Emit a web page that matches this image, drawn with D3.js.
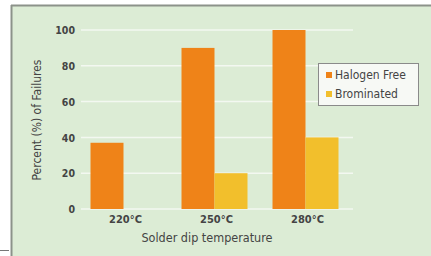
<!DOCTYPE html>
<html><head><meta charset="utf-8">
<script src="https://cdn.jsdelivr.net/npm/d3@7"></script>
<style>
html,body{margin:0;padding:0;background:#fff;}
svg text{font-family:"DejaVu Sans Condensed","Liberation Sans Narrow",sans-serif;fill:#444;}
</style></head>
<body>
<svg id="c" width="431" height="256"></svg>
<script>
const categories = ["220°C", "250°C", "280°C"];
const seriesNames = ["Halogen Free", "Brominated"];
const halogenFree = [37, 90, 100];
const brominated = [0, 20, 40];
const yTicks = [0, 20, 40, 60, 80, 100];
const colors = ["#ef8318", "#f2bf2c"];

const svg = d3.select("#c");
// panel
svg.append("rect").attr("x", 11).attr("y", 5).attr("width", 420).attr("height", 251).attr("fill", "#dcecd5");
svg.append("line").attr("x1", 11).attr("x2", 431).attr("y1", 5.5).attr("y2", 5.5).attr("stroke", "#8c928a").attr("stroke-width", 2);
svg.append("line").attr("x1", 11.5).attr("x2", 11.5).attr("y1", 5).attr("y2", 256).attr("stroke", "#8c928a").attr("stroke-width", 2);
svg.append("line").attr("x1", 0).attr("x2", 9).attr("y1", 250.5).attr("y2", 250.5).attr("stroke", "#777").attr("stroke-width", 1);

const x = d3.scaleBand().domain(categories).range([78, 351]);
const y = d3.scaleLinear().domain([0, 100]).range([209, 30]);
const sub = d3.scaleBand().domain(seriesNames).range([0, 66]);
const offset = (x.bandwidth() - 66) / 2;

// gridlines
svg.append("g").selectAll("line").data(yTicks).join("line")
  .attr("x1", 81).attr("x2", 353)
  .attr("y1", d => y(d)).attr("y2", d => y(d))
  .attr("stroke", "#f3f8f1").attr("stroke-width", 1.5);

// y axis labels
const yAxis = d3.axisLeft(y).tickValues(yTicks).tickSize(0).tickPadding(0);
const gy = svg.append("g").attr("transform", "translate(75,0)").call(yAxis);
gy.select(".domain").remove();
gy.selectAll("text").attr("font-size", 10.5).attr("font-weight", "bold").attr("fill", "#444").attr("dy", "0.35em");

// bars
const data = categories.map((c, i) => ({c, vals: [halogenFree[i], brominated[i]]}));
const groups = svg.append("g").selectAll("g").data(data).join("g")
  .attr("transform", d => `translate(${x(d.c) + offset},0)`);
groups.selectAll("rect").data(d => d.vals.map((v, j) => ({v, s: seriesNames[j], j})))
  .join("rect")
  .attr("x", d => sub(d.s))
  .attr("width", sub.bandwidth())
  .attr("y", d => y(d.v))
  .attr("height", d => y(0) - y(d.v))
  .attr("fill", d => colors[d.j]);

// x axis labels
const xAxis = d3.axisBottom(x).tickSize(0).tickPadding(0);
const gx = svg.append("g").attr("transform", "translate(2,215)").call(xAxis);
gx.select(".domain").remove();
gx.selectAll("text").attr("font-size", 11).attr("font-weight", "bold").attr("fill", "#444").attr("dy", "0.71em");

// axis titles
svg.append("text").attr("x", 207).attr("y", 242).attr("text-anchor", "middle")
  .attr("font-size", 12.5).attr("fill", "#3c3c3c").text("Solder dip temperature");
svg.append("text").attr("transform", "translate(41,120) rotate(-90)").attr("text-anchor", "middle")
  .attr("font-size", 12).attr("fill", "#3c3c3c").text("Percent (%) of Failures");

// legend
const lg = svg.append("g").attr("transform", "translate(318,63)");
lg.append("rect").attr("x", 0.5).attr("y", 0.5).attr("width", 100).attr("height", 42)
  .attr("fill", "#f7f9f5").attr("stroke", "#8a8a8a").attr("stroke-width", 1);
seriesNames.forEach((n, i) => {
  lg.append("rect").attr("x", 8).attr("y", 9 + i * 19).attr("width", 6).attr("height", 6).attr("fill", colors[i]);
  lg.append("text").attr("x", 17).attr("y", 12 + i * 19).attr("dy", "0.35em").attr("font-size", 12).attr("fill", "#3c3c3c").text(n);
});
</script>
</body></html>
